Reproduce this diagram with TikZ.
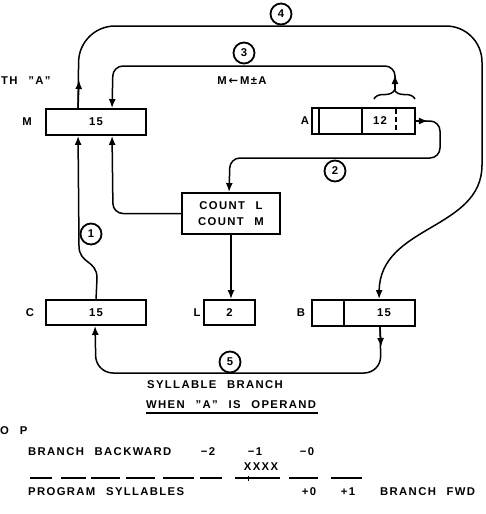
\documentclass[tikz,border=0pt]{standalone}
\usepackage{fontspec}
\setmainfont{Liberation Sans}[LetterSpace=12,WordSpace=2.4]
\newfontfamily\djv{DejaVu Sans}
\newcommand{\sq}{\symbol{34}}
\usetikzlibrary{arrows.meta,decorations.pathreplacing,calc}
\begin{document}
\begin{tikzpicture}[x=1pt,y=-1pt,
  font=\bfseries\fontsize{11.3}{13}\selectfont,
  box/.style={draw,line width=1.9pt,inner sep=0pt,minimum height=26pt},
  conn/.style={line width=1.5pt},
  arr/.style={conn,-{Latex[length=9pt,width=7pt]}},
  circ/.style={draw,circle,line width=1.8pt,minimum size=21pt,inner sep=0pt},
  txt/.style={inner sep=0pt}]
\useasboundingbox (0,0) rectangle (486,514);
% boxes
\node[box,minimum width=100pt] (M) at (96,122) {15};
\node[box,minimum width=103pt] (A) at (363.5,121) {};
\node[txt] (A12) at (380,121) {12};
\node[box,minimum width=98pt,minimum height=41pt,align=center,font=\bfseries\fontsize{11.3}{16.5}\selectfont] (CNT) at (231,213.5) {COUNT L\\COUNT M};
\node[box,minimum width=100pt,minimum height=25pt] (C) at (96,312.5) {15};
\node[box,minimum width=51pt,minimum height=25pt] (L) at (229.5,312.5) {2};
\node[box,minimum width=103pt] (B) at (363.5,313) {};
\node[txt] (B15) at (384,313) {15};
% inner lines
\draw[line width=1.6pt] ($(A.north west)+(8,0)$) -- ($(A.south west)+(8,0)$);
\draw[line width=1.6pt] ($(A.north west)+(51,0)$) -- ($(A.south west)+(51,0)$);
\draw[line width=1.6pt,dash pattern=on 5pt off 3pt] ($(A.north west)+(85,2)$) -- ($(A.south west)+(85,0)$);
\draw[line width=1.6pt] ($(B.north west)+(33,0)$) -- ($(B.south west)+(33,0)$);
% labels
\node[txt] (lM) at (27,122) {M};
\node[txt] (lA) at (305,121) {A};
\node[txt] (lC) at (30,312.5) {C};
\node[txt] (lL) at (197,312.5) {L};
\node[txt] (lB) at (301,313) {B};
% circles
\node[circ] (n1) at (91,234) {1};
\node[circ] (n2) at (335,171) {2};
\node[circ] (n3) at (244,53) {3};
\node[circ] (n4) at (281,14) {4};
\node[circ] (n5) at (230,362) {5};
% helper coordinates
\coordinate (Mt4) at ($(M.north west)+(33,0)$);
\coordinate (Mt3) at ($(M.north west)+(67,0)$);
\coordinate (Mb1) at ($(M.south west)+(33,0)$);
\coordinate (Mb3) at ($(M.south west)+(67,0)$);
\coordinate (Ct) at ($(C.north west)+(51,0)$);
\coordinate (Cb) at ($(C.south west)+(50,0)$);
\coordinate (Bt) at ($(B.north west)+(68,0)$);
\coordinate (Bb) at ($(B.south west)+(69,0)$);
\coordinate (CNTt) at ($(CNT.north west)+(48,0)$);
% brace
\draw[conn,decorate,decoration={brace,amplitude=9pt}] (374,99) -- (415,99);
\coordinate (bt) at (395,90);
% line 4
\draw[conn,rounded corners=36pt] (Mt4) -- (79,26) -- (482,26) -- (482,165);
\draw[arr] (482,165) .. controls (482,230) and (380,225) .. (Bt);
\draw[arr] (Mt4) -- (79,80);
% line 3
\draw[arr,rounded corners=10pt] (bt) -- (395,66) -- (113,66) -- (Mt3);
\draw[arr] (bt) -- (395,75);
% line 2
\draw[arr,rounded corners=10pt] (A.east) -- (440,121) -- (440,158) -- (230,158) -- (CNTt);
\draw[arr] (A.east) -- ($(A.east)+(12,0)$);
% count to M
\draw[arr,rounded corners=10pt] (CNT.west) -- (113,213.5) -- (Mb3);
% count to L
\draw[arr] (CNT.south) -- (CNT.south |- L.north);
% line 1
\draw[arr] (Ct) -- (97,278) .. controls (97,260) and (79,264) .. (79,246) -- (Mb1);
% line 5
\draw[arr,rounded corners=17pt] (Bb) -- (381,373) -- (96,373) -- (Cb);
\draw[arr] (Bb) -- (381,347);
% texts
\node[txt,anchor=west] (t1) at (1,81) {TH \sq A\sq};
\node[txt] (t2) at (242,81) {M\,{\djv\bfseries←}\,M±A};
\node[txt,anchor=west] (t3) at (147,385) {SYLLABLE BRANCH};
\node[txt,anchor=west] (t4) at (146,405) {WHEN \sq A\sq{} IS OPERAND};
\draw[conn] (146,413) -- (318,413);
\node[txt,anchor=west] (dp) at (0,431) {O P};
\node[txt,anchor=west] (b1) at (28,452) {BRANCH BACKWARD};
\node[txt] (b2) at (208,452) {−2};
\node[txt] (b3) at (255,452) {−1};
\node[txt] (b4) at (307,452) {−0};
\node[txt] (b5) at (261,467) {XXXX};
\foreach \a/\b in {30/52,61/86,91/120,126/155,163/194,200/222,235/280,289/318,331/362}
  \draw[conn] (\a,478) -- (\b,478);
\draw[line width=0.9pt] (248,475.5) -- (248,480.5);
\node[txt,anchor=west] (b6) at (28,492) {PROGRAM SYLLABLES};
\node[txt] (b7) at (309,492) {+0};
\node[txt] (b8) at (348,492) {+1};
\node[txt,anchor=west] (b9) at (380,492) {BRANCH FWD};
\end{tikzpicture}
\end{document}
